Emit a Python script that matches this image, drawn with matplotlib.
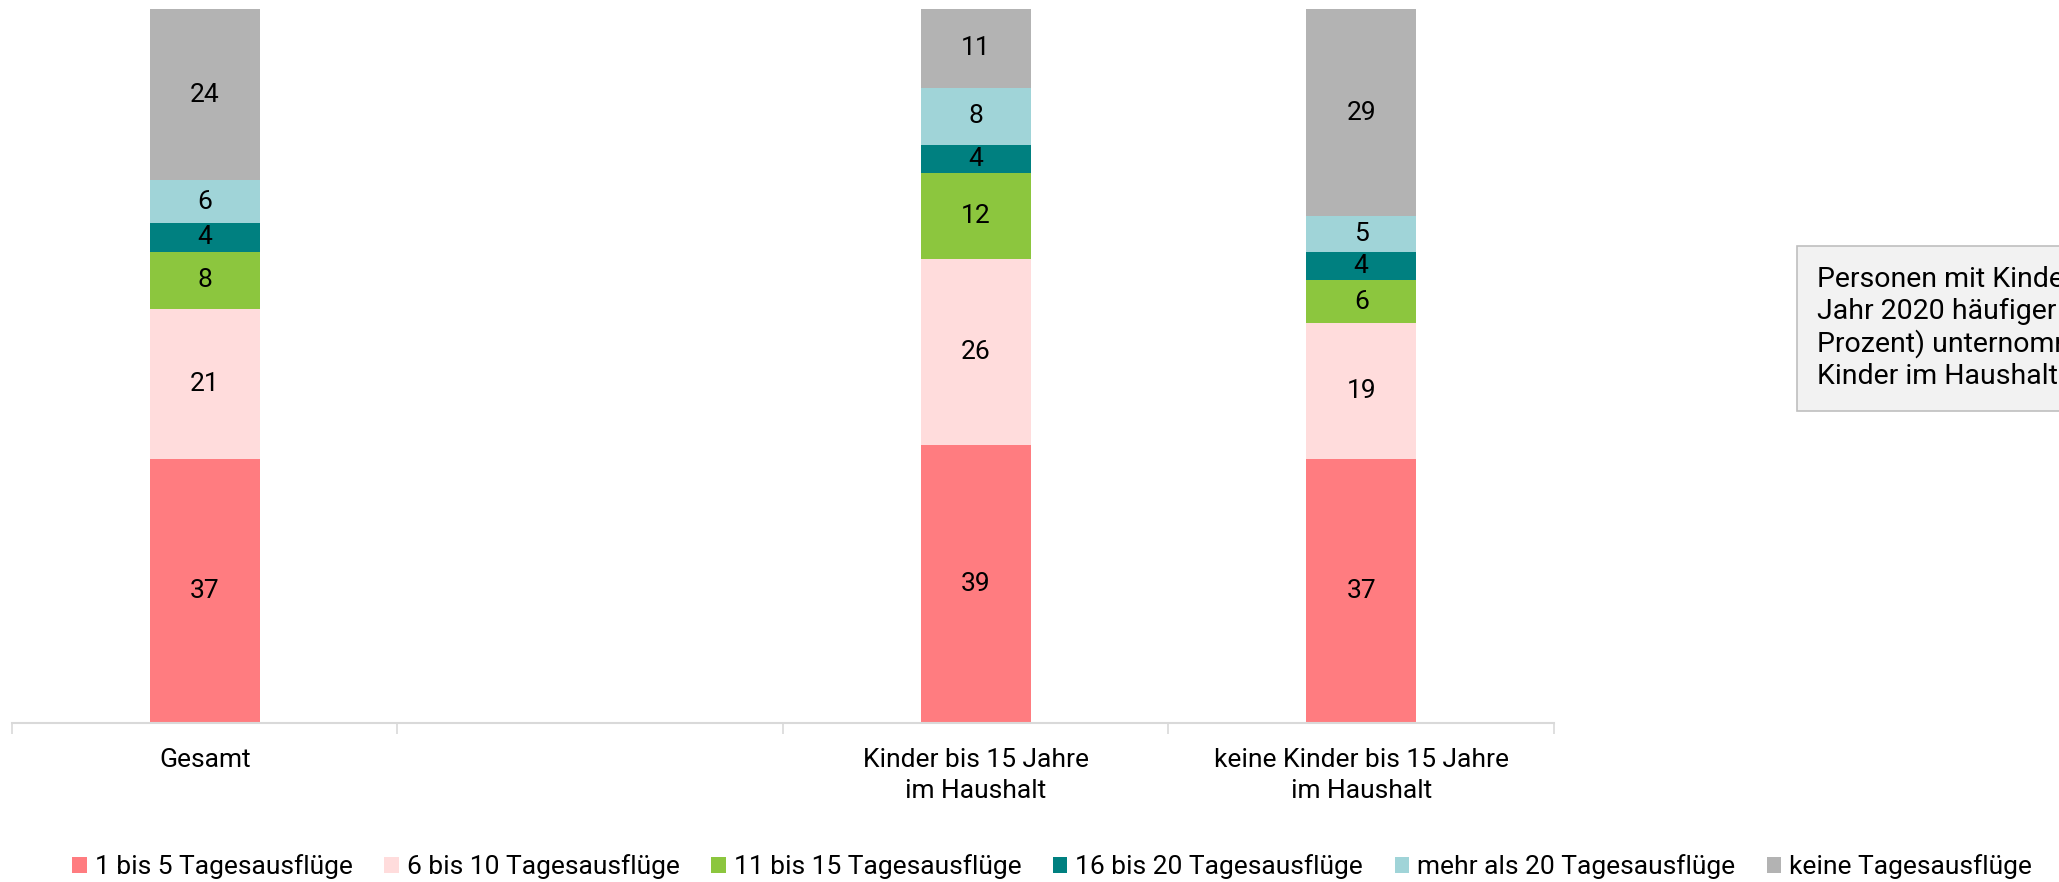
import matplotlib
matplotlib.use("Agg")
import matplotlib.pyplot as plt
from matplotlib.patches import Patch
import numpy as np

plt.rcParams['font.family'] = ['Roboto', 'DejaVu Sans']

categories = ["Gesamt", "", "Kinder bis 15 Jahre\nim Haushalt", "keine Kinder bis 15 Jahre\nim Haushalt"]
series_names = ["1 bis 5 Tagesausflüge", "6 bis 10 Tagesausflüge", "11 bis 15 Tagesausflüge",
                "16 bis 20 Tagesausflüge", "mehr als 20 Tagesausflüge", "keine Tagesausflüge"]
s1_5 = [37, None, 39, 37]
s6_10 = [21, None, 26, 19]
s11_15 = [8, None, 12, 6]
s16_20 = [4, None, 4, 4]
s20plus = [6, None, 8, 5]
s_keine = [24, None, 11, 29]
series = [s1_5, s6_10, s11_15, s16_20, s20plus, s_keine]
colors = ["#ff7c80", "#ffdcdc", "#8cc63e", "#008080", "#a0d4d8", "#b3b3b3"]

note = ("Personen mit Kindern im Haushalt haben im\n"
        "Jahr 2020 häufiger Tagesausflüge (89\n"
        "Prozent) unternommen als Personen ohne\n"
        "Kinder im Haushalt (71 Prozent).")

fig = plt.figure(figsize=(20.59, 8.82), dpi=100)
ax = fig.add_axes([12/2059, 1-723/882, (1554-12)/2059, (723-9)/882])

x = np.arange(len(categories))
bottom = np.zeros(len(categories))
for vals, col in zip(series, colors):
    v = np.array([0 if a is None else a for a in vals], dtype=float)
    ax.bar(x, v, width=0.285, bottom=bottom, color=col, linewidth=0)
    for xi, vi, bi, raw in zip(x, v, bottom, vals):
        if raw is not None:
            ax.text(xi, bi + vi/2, str(raw), ha="center", va="center", fontsize=19, color="#000000")
    bottom += v

ax.set_xlim(-0.5, len(categories) - 0.5)
ax.set_ylim(0, 100)
for s in ["top", "right", "left"]:
    ax.spines[s].set_visible(False)
ax.spines["bottom"].set_color("#d9d9d9")
ax.spines["bottom"].set_linewidth(1.5)
ax.set_yticks([])
ax.set_xticks(np.arange(-0.5, len(categories)), minor=False)
ax.set_xticklabels([])
ax.tick_params(axis="x", which="major", length=8, color="#d9d9d9", width=1.2)
ax.set_xticks(x, minor=True)
ax.set_xticklabels(categories, minor=True, fontsize=19, linespacing=1.35)
ax.tick_params(axis="x", which="minor", length=0, pad=18)

handles = [Patch(facecolor=c, edgecolor="none") for c in colors]
fig.legend(handles, series_names, loc="center", bbox_to_anchor=(0.511, 1-867/882), ncol=6,
           frameon=False, fontsize=19, handlelength=0.55, handleheight=0.55, handletextpad=0.3,
           columnspacing=1.2)

fig.text(1817/2059, 1-328/882, note, ha="left", va="center", fontsize=20.5, linespacing=1.17,
         bbox=dict(boxstyle="square,pad=0.72", facecolor="#f2f2f2", edgecolor="#bfbfbf", linewidth=1.2))

fig.savefig("out.png", dpi=100)
